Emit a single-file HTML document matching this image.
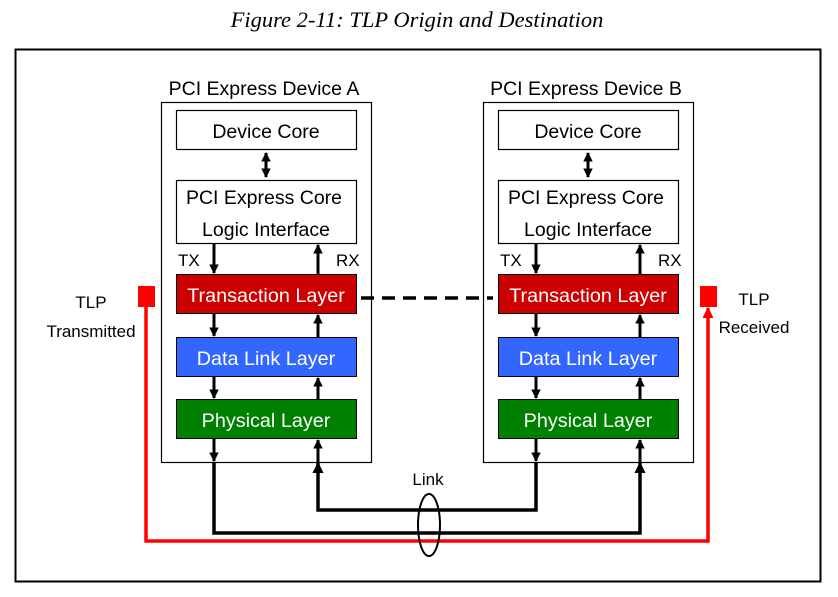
<!DOCTYPE html>
<html><head><meta charset="utf-8"><style>
html,body{margin:0;padding:0;background:#fff;}
svg{display:block;}
text{font-family:"Liberation Sans",sans-serif;}
</style></head><body>
<svg width="838" height="597" viewBox="0 0 838 597" xmlns="http://www.w3.org/2000/svg">
<defs>
<marker id="ah" viewBox="0 0 10 10" refX="9" refY="5" markerWidth="3.2" markerHeight="3.2" orient="auto-start-reverse"><path d="M0,0 L10,5 L0,10 z" fill="#000"/></marker>
<marker id="ahr" viewBox="0 0 10 10" refX="9" refY="5" markerWidth="3.2" markerHeight="3.2" orient="auto"><path d="M0,0 L10,5 L0,10 z" fill="#f00"/></marker>
</defs>
<text x="417" y="27" text-anchor="middle" style="font-family:'Liberation Serif',serif;font-style:italic;font-size:22.5px">Figure 2-11: TLP Origin and Destination</text>
<rect x="15.5" y="49.5" width="805" height="532" fill="none" stroke="#000" stroke-width="2"/>

<g id="devA">
<text x="264" y="95" text-anchor="middle" font-size="19.5">PCI Express Device A</text>
<rect x="161.5" y="102.5" width="210" height="360" fill="none" stroke="#000" stroke-width="1.2"/>
<rect x="176.5" y="110.5" width="180" height="39" fill="#fff" stroke="#000" stroke-width="1.2"/>
<text x="266" y="138" text-anchor="middle" font-size="19.5">Device Core</text>
<line x1="266" y1="153" x2="266" y2="177" stroke="#000" stroke-width="3" marker-start="url(#ah)" marker-end="url(#ah)"/>
<rect x="176.5" y="180.5" width="180" height="63" fill="#fff" stroke="#000" stroke-width="1.2"/>
<text x="264" y="204" text-anchor="middle" font-size="19.5">PCI Express Core</text>
<text x="266" y="236" text-anchor="middle" font-size="19.5">Logic Interface</text>
<text x="178" y="266" font-size="17">TX</text>
<text x="336" y="266" font-size="17">RX</text>
<line x1="214" y1="244" x2="214" y2="273" stroke="#000" stroke-width="3" marker-end="url(#ah)"/>
<line x1="318" y1="274" x2="318" y2="245" stroke="#000" stroke-width="3" marker-end="url(#ah)"/>
<rect x="176.5" y="274.5" width="180" height="39" fill="#cc0000" stroke="#000" stroke-width="1"/>
<text x="266" y="302" text-anchor="middle" font-size="19.8" fill="#fff">Transaction Layer</text>
<line x1="214" y1="314" x2="214" y2="336" stroke="#000" stroke-width="3" marker-end="url(#ah)"/>
<line x1="318" y1="337" x2="318" y2="315" stroke="#000" stroke-width="3" marker-end="url(#ah)"/>
<rect x="176.5" y="337.5" width="180" height="39" fill="#3366ff" stroke="#000" stroke-width="1"/>
<text x="266" y="365" text-anchor="middle" font-size="19.8" fill="#fff">Data Link Layer</text>
<line x1="214" y1="377" x2="214" y2="398" stroke="#000" stroke-width="3" marker-end="url(#ah)"/>
<line x1="318" y1="399" x2="318" y2="378" stroke="#000" stroke-width="3" marker-end="url(#ah)"/>
<rect x="176.5" y="399.5" width="180" height="39" fill="#008000" stroke="#000" stroke-width="1"/>
<text x="266" y="427" text-anchor="middle" font-size="19.8" fill="#fff">Physical Layer</text>
</g>
<g transform="translate(322,0)">
<text x="264" y="95" text-anchor="middle" font-size="19.5">PCI Express Device B</text>
<rect x="161.5" y="102.5" width="210" height="360" fill="none" stroke="#000" stroke-width="1.2"/>
<rect x="176.5" y="110.5" width="180" height="39" fill="#fff" stroke="#000" stroke-width="1.2"/>
<text x="266" y="138" text-anchor="middle" font-size="19.5">Device Core</text>
<line x1="266" y1="153" x2="266" y2="177" stroke="#000" stroke-width="3" marker-start="url(#ah)" marker-end="url(#ah)"/>
<rect x="176.5" y="180.5" width="180" height="63" fill="#fff" stroke="#000" stroke-width="1.2"/>
<text x="264" y="204" text-anchor="middle" font-size="19.5">PCI Express Core</text>
<text x="266" y="236" text-anchor="middle" font-size="19.5">Logic Interface</text>
<text x="178" y="266" font-size="17">TX</text>
<text x="336" y="266" font-size="17">RX</text>
<line x1="214" y1="244" x2="214" y2="273" stroke="#000" stroke-width="3" marker-end="url(#ah)"/>
<line x1="318" y1="274" x2="318" y2="245" stroke="#000" stroke-width="3" marker-end="url(#ah)"/>
<rect x="176.5" y="274.5" width="180" height="39" fill="#cc0000" stroke="#000" stroke-width="1"/>
<text x="266" y="302" text-anchor="middle" font-size="19.8" fill="#fff">Transaction Layer</text>
<line x1="214" y1="314" x2="214" y2="336" stroke="#000" stroke-width="3" marker-end="url(#ah)"/>
<line x1="318" y1="337" x2="318" y2="315" stroke="#000" stroke-width="3" marker-end="url(#ah)"/>
<rect x="176.5" y="337.5" width="180" height="39" fill="#3366ff" stroke="#000" stroke-width="1"/>
<text x="266" y="365" text-anchor="middle" font-size="19.8" fill="#fff">Data Link Layer</text>
<line x1="214" y1="377" x2="214" y2="398" stroke="#000" stroke-width="3" marker-end="url(#ah)"/>
<line x1="318" y1="399" x2="318" y2="378" stroke="#000" stroke-width="3" marker-end="url(#ah)"/>
<rect x="176.5" y="399.5" width="180" height="39" fill="#008000" stroke="#000" stroke-width="1"/>
<text x="266" y="427" text-anchor="middle" font-size="19.8" fill="#fff">Physical Layer</text>
</g>

<line x1="361" y1="298" x2="493" y2="298" stroke="#000" stroke-width="3.5" stroke-dasharray="13,8"/>

<line x1="214" y1="439" x2="214" y2="461" stroke="#000" stroke-width="3" marker-end="url(#ah)"/>
<polyline points="214,462 214,533 640,533 640,463" fill="none" stroke="#000" stroke-width="3.5" marker-end="url(#ah)"/>
<line x1="640" y1="462" x2="640" y2="440" stroke="#000" stroke-width="3" marker-end="url(#ah)"/>
<line x1="536" y1="439" x2="536" y2="461" stroke="#000" stroke-width="3" marker-end="url(#ah)"/>
<polyline points="536,462 536,510 318,510 318,463" fill="none" stroke="#000" stroke-width="3.5" marker-end="url(#ah)"/>
<line x1="318" y1="462" x2="318" y2="440" stroke="#000" stroke-width="3" marker-end="url(#ah)"/>

<polyline points="146,305 146,541 708,541 708,308" fill="none" stroke="#f00" stroke-width="3.5" marker-end="url(#ahr)"/>
<rect x="138" y="286" width="17" height="21" fill="#f00"/>
<rect x="700" y="286" width="17" height="21" fill="#f00"/>

<ellipse cx="429" cy="525" rx="11" ry="31" fill="none" stroke="#000" stroke-width="2"/>
<text x="428" y="485" text-anchor="middle" font-size="17">Link</text>

<text x="91" y="308" text-anchor="middle" font-size="17">TLP</text>
<text x="91" y="337" text-anchor="middle" font-size="17">Transmitted</text>
<text x="754" y="305" text-anchor="middle" font-size="17">TLP</text>
<text x="754" y="333" text-anchor="middle" font-size="17">Received</text>
</svg>
</body></html>
